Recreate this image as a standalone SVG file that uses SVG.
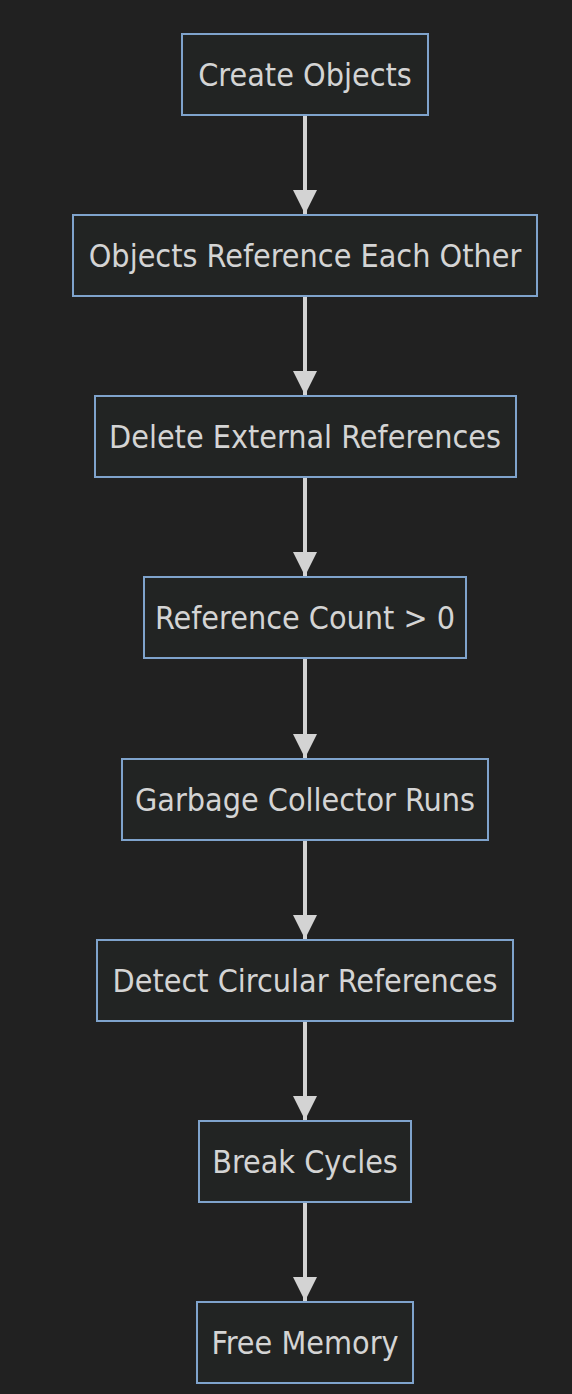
<svg xmlns="http://www.w3.org/2000/svg" width="572" height="1394" viewBox="0 0 572 1394">
<style>
.bg{fill:#212121}
.node rect{fill:#222423;stroke:#7fa3cc;stroke-width:2}
.node text{fill:#d4d4d4;font-family:"DejaVu Sans Condensed","DejaVu Sans",Verdana,sans-serif;font-stretch:condensed;font-size:32px;text-anchor:middle;dominant-baseline:central}
.edge{stroke:#d3d3d3;stroke-width:4;fill:none}
</style>
<defs>
<marker id="arr" markerUnits="userSpaceOnUse" viewBox="0 0 24 24" refX="24" refY="12" markerWidth="24" markerHeight="24" orient="auto">
<path d="M0,0 L24,12 L0,24 z" fill="#d3d3d3"/>
</marker>
</defs>
<rect class="bg" x="0" y="0" width="572" height="1394"/>
<g id="connectors">
<path class="edge" d="M305,116 V214" marker-end="url(#arr)"/>
<path class="edge" d="M305,297 V395" marker-end="url(#arr)"/>
<path class="edge" d="M305,478 V576" marker-end="url(#arr)"/>
<path class="edge" d="M305,659 V758" marker-end="url(#arr)"/>
<path class="edge" d="M305,841 V939" marker-end="url(#arr)"/>
<path class="edge" d="M305,1022 V1120" marker-end="url(#arr)"/>
<path class="edge" d="M305,1203 V1301" marker-end="url(#arr)"/>
</g>
<g id="n1" class="node"><rect x="182" y="34" width="246" height="81"/><text x="305" y="75">Create Objects</text></g>
<g id="n2" class="node"><rect x="73" y="215" width="464" height="81"/><text x="305" y="256">Objects Reference Each Other</text></g>
<g id="n3" class="node"><rect x="95" y="396" width="421" height="81"/><text x="305" y="437">Delete External References</text></g>
<g id="n4" class="node"><rect x="144" y="577" width="322" height="81"/><text x="305" y="618">Reference Count &gt; 0</text></g>
<g id="n5" class="node"><rect x="122" y="759" width="366" height="81"/><text x="305" y="800">Garbage Collector Runs</text></g>
<g id="n6" class="node"><rect x="97" y="940" width="416" height="81"/><text x="305" y="981">Detect Circular References</text></g>
<g id="n7" class="node"><rect x="199" y="1121" width="212" height="81"/><text x="305" y="1162">Break Cycles</text></g>
<g id="n8" class="node"><rect x="197" y="1302" width="216" height="81"/><text x="305" y="1343">Free Memory</text></g>
</svg>
